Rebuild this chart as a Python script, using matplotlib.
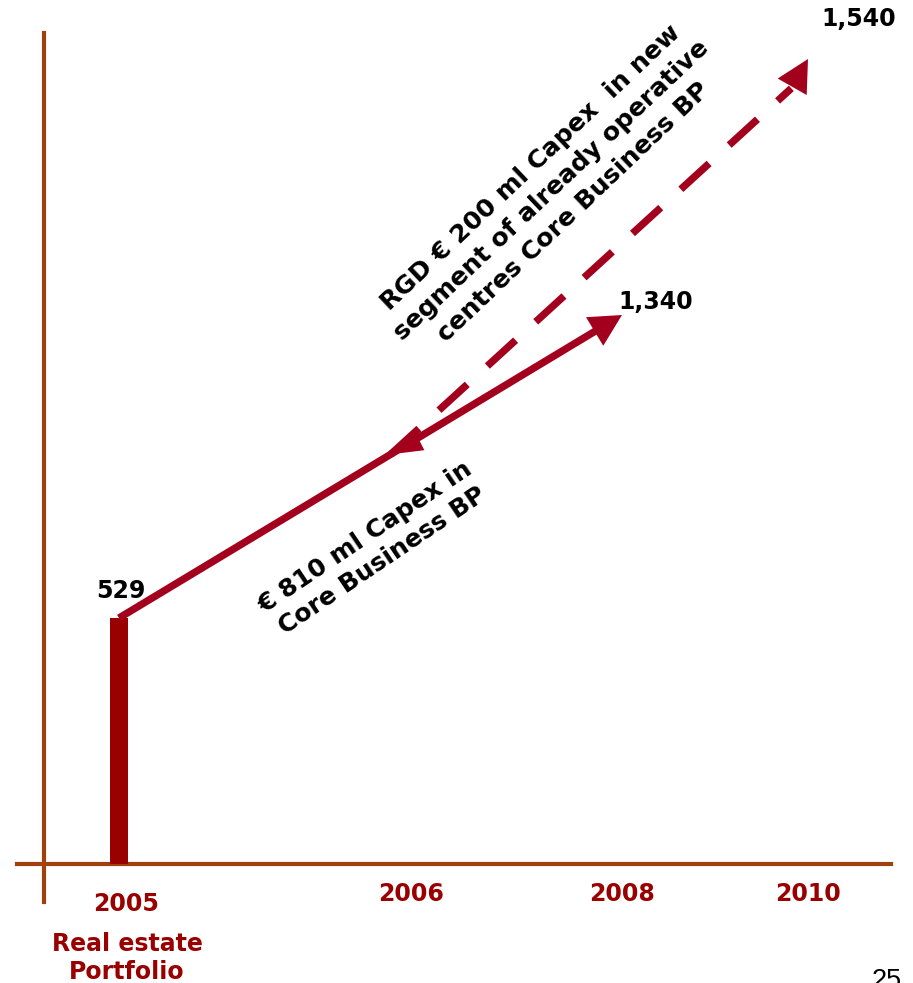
import matplotlib.pyplot as plt
import numpy as np

W, H = 913, 983

years = ["2005", "2006", "2008", "2010"]
portfolio_2005 = 529
capex_core_end = 1340
capex_rgd_end = 1540
rgd_start_frac = 0.54  # dashed arrow leaves the solid one about halfway

# schematic layout (the slide is not drawn to scale)
x_pos = [119, 411, 622, 808]
anchor_vals = [-1000, 0, 529, 1340, 1540, 3000]
anchor_px = [-465, 0, 246, 549, 805, 2674]

bar_col = "#990000"
arrow_col = "#A3001E"
axis_col = "#A0410D"
font = "DejaVu Sans"


def fwd(v):
    return np.interp(v, anchor_vals, anchor_px)


def inv(h):
    return np.interp(h, anchor_px, anchor_vals)


def fig_xy(px, py):
    return px / W, 1 - py / H


fig = plt.figure(figsize=(W / 100, H / 100), dpi=100)
ax = fig.add_axes([0, 0, 1, 1])
ax.set_xlim(0, W)
ax.set_yscale("function", functions=(fwd, inv))
ax.set_ylim(inv(-(H - 864)), inv(864))
ax.axis("off")

# axes lines
ax.axvline(44, ymin=(H - 902) / H, ymax=(H - 33) / H, color=axis_col, lw=3)
ax.axhline(0, xmin=17 / W, xmax=891 / W, color=axis_col, lw=3)

# 2005 bar
ax.bar(x_pos[0], portfolio_2005, width=18, color=bar_col, zorder=3)


def head(tip, back, hw=0.6):
    ax.annotate("", xy=tip, xytext=back,
                arrowprops=dict(arrowstyle=f"-|>,head_length=1.15,head_width={hw}",
                                mutation_scale=20, lw=0, color=arrow_col,
                                shrinkA=0, shrinkB=0), zorder=5)


def along(p0, p1, t):
    return p0[0] + (p1[0] - p0[0]) * t, p0[1] + (p1[1] - p0[1]) * t


# solid arrow: core business capex
p0 = (x_pos[0], portfolio_2005)
p1 = (x_pos[2], capex_core_end)
s_end = along(p0, p1, 0.97)
ax.plot([p0[0], s_end[0]], [p0[1], s_end[1]], color=arrow_col, lw=5.3,
        solid_capstyle="butt", zorder=4)
head(p1, along(p0, p1, 0.9))

# dashed arrow: RGD capex
q0 = along(p0, p1, rgd_start_frac)
q1 = (x_pos[3], capex_rgd_end)
d_end = along(q0, q1, 0.96)
ax.plot([q0[0], d_end[0]], [q0[1], d_end[1]], color=arrow_col, lw=5.3,
        linestyle=(0, (5.2, 3.7)), dash_capstyle="butt", zorder=4)
head(q1, along(q0, q1, 0.9))
head(q0, along(q0, q1, 0.08), hw=0.42)

# value labels
lab = dict(fontsize=17, fontweight="bold", color="black", family=font,
           ha="center", va="center", textcoords="offset pixels")
ax.annotate(f"{portfolio_2005:,}", xy=p0, xytext=(2, 27), **lab)
ax.annotate(f"{capex_core_end:,}", xy=p1, xytext=(34, 13), **lab)
ax.annotate(f"{capex_rgd_end:,}", xy=q1, xytext=(51, 40), **lab)

# year labels
yl = dict(fontsize=17, fontweight="bold", color=bar_col, family=font,
          ha="center", va="center", textcoords="offset pixels")
ax.annotate(years[0], xy=(x_pos[0] + 7, 0), xytext=(0, -40), **yl)
for x, y in zip(x_pos[1:], years[1:]):
    ax.annotate(y, xy=(x, 0), xytext=(0, -30), **yl)
ax.annotate("Real estate\nPortfolio", xy=(x_pos[0] + 8, 0), xytext=(0, -94),
            linespacing=1.2, **yl)

# annotations on the arrows
fig.text(*fig_xy(552, 190), "RGD € 200 ml Capex  in new\nsegment of already operative\ncentres Core Business BP",
         rotation=43.5, rotation_mode="anchor", ha="center", va="center",
         multialignment="center", fontsize=18.3, fontweight="bold", family=font,
         linespacing=1.35)
fig.text(*fig_xy(374, 549), "€ 810 ml Capex in\nCore Business BP",
         rotation=34, rotation_mode="anchor", ha="center", va="center",
         multialignment="center", fontsize=18, fontweight="bold", family=font,
         linespacing=1.25)

# page number
fig.text(*fig_xy(872, 988), "25", fontsize=19.5, family="Liberation Sans",
         ha="left", va="baseline")

fig.savefig("out.png", dpi=100)
